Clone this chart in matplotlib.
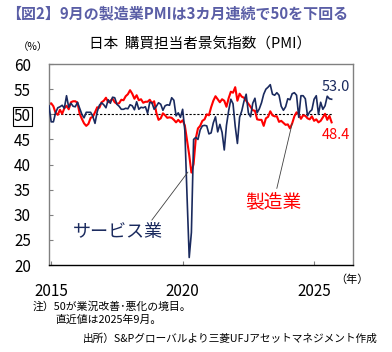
import matplotlib
matplotlib.use("Agg")
import matplotlib.pyplot as plt
import numpy as np

plt.rcParams['font.family'] = ['Noto Sans CJK JP', 'DejaVu Sans']

start_year = 2014
start_month = 12

manufacturing = [
    52.0,
    52.2, 51.6, 50.3, 49.9, 50.9, 50.1, 51.2, 51.7, 51.0, 52.4, 52.6, 52.6,
    52.3, 50.1, 49.1, 48.2, 47.7, 48.1, 49.3, 49.5, 50.4, 51.4, 51.3, 52.4,
    52.7, 53.3, 52.4, 52.7, 53.1, 52.4, 52.1, 52.2, 52.9, 52.8, 53.6, 54.0,
    54.8, 54.1, 53.1, 53.8, 52.8, 53.0, 52.3, 52.5, 52.5, 52.9, 52.2, 52.6,
    50.3, 48.9, 49.2, 50.2, 49.8, 49.3, 49.4, 49.3, 48.9, 48.4, 48.9, 48.4,
    48.8, 47.8, 44.8, 41.9, 38.4, 40.1, 45.2, 47.2, 47.7, 48.7, 49.0, 50.0,
    49.8, 51.4, 52.7, 53.6, 53.0, 52.4, 53.0, 52.7, 51.5, 53.2, 54.5, 54.3,
    55.4, 52.7, 54.1, 53.5, 53.3, 52.7, 52.1, 51.5, 50.8, 50.7, 49.0, 48.9,
    48.9, 47.7, 49.2, 49.5, 50.6, 49.8, 49.6, 49.6, 48.5, 48.7, 48.3, 47.9,
    48.0, 47.2, 48.2, 49.6, 50.4, 50.0, 49.1, 49.8, 49.7, 49.2, 49.0, 49.6,
    48.7, 49.0, 48.4, 48.7, 49.4, 50.1, 48.9, 49.7, 48.4,
]

services = [
    51.7,
    48.5, 48.5, 50.3, 51.3, 51.5, 51.8, 51.2, 53.7, 51.4, 52.2, 51.6, 51.5,
    52.4, 51.2, 50.0, 49.3, 50.4, 50.4, 50.4, 49.6, 48.2, 50.5, 51.8, 52.3,
    51.9, 51.3, 52.9, 52.2, 53.4, 53.3, 52.0, 51.6, 51.0, 51.0, 51.2, 51.1,
    51.9, 51.7, 50.9, 52.5, 51.0, 51.4, 51.3, 51.5, 50.2, 52.4, 52.3, 51.0,
    51.6, 52.3, 52.0, 50.8, 51.7, 51.9, 51.8, 53.3, 52.8, 49.7, 50.3, 49.4,
    51.0, 46.8, 33.8, 21.5, 26.5, 45.0, 45.4, 45.0, 46.9, 47.7, 47.8, 47.7,
    46.1, 46.3, 48.3, 49.5, 46.5, 48.0, 46.4, 42.9, 47.8, 50.7, 53.0, 52.1,
    47.6, 44.2, 49.4, 50.7, 52.6, 54.0, 50.3, 49.5, 52.2, 53.2, 50.3, 51.1,
    52.3, 54.0, 55.0, 55.4, 55.9, 54.0, 53.8, 54.3, 53.8, 51.6, 50.8, 51.5,
    53.1, 52.9, 54.1, 54.3, 53.8, 49.4, 53.7, 53.7, 53.1, 49.7, 50.5, 50.9,
    53.0, 53.7, 50.0, 52.4, 51.0, 51.7, 53.6, 53.1, 53.0,
]

y_ticks = [20, 25, 30, 35, 40, 45, 50, 55, 60]
x_ticks = [2015, 2020, 2025]

title_text = "【図2】9月の製造業PMIは3カ月連続で50を下回る"
chart_title = "日本  購買担当者景気指数（PMI）"
unit_label = "（%）"
year_label = "（年）"
label_serv = "サービス業"
label_manu = "製造業"
note1 = "注）50が業況改善･悪化の境目。"
note2 = "直近値は2025年9月。"
source = "出所）S&Pグローバルより三菱UFJアセットマネジメント作成"

n = len(manufacturing)
x = start_year + (start_month - 1) / 12 + np.arange(n) / 12.0

NAVY = "#1a2a5e"
RED = "#ff0000"

fig = plt.figure(figsize=(3.92, 3.52), dpi=100)
ax = fig.add_axes([0.125, 0.247, 0.7755, 0.571])

ax.plot([x[0], x[-1]], [50, 50], color="black", lw=0.8, ls=(0, (2, 1.5)), zorder=1)
ax.plot(x, services, color=NAVY, lw=1.2, zorder=3)
ax.plot(x, manufacturing, color=RED, lw=1.5, zorder=2)

ax.set_xlim(x[0], 2026.48)
ax.set_ylim(20, 60)
ax.set_yticks(y_ticks)
ax.set_yticklabels([str(v) for v in y_ticks], fontsize=11)
ax.set_xticks(x_ticks)
ax.set_xticklabels([str(v) for v in x_ticks], fontsize=11)
ax.tick_params(axis='y', direction='in', length=3, color='#808080', pad=13)
ax.tick_params(axis='x', direction='in', length=3, color='#808080', pad=13)
for lab in ax.get_yticklabels():
    lab.set_horizontalalignment('right')
    if lab.get_text() == "50":
        lab.set_bbox(dict(facecolor='none', edgecolor='black', pad=0.6, lw=0.8))

for s in ['top', 'right', 'left']:
    ax.spines[s].set_color('#808080')
    ax.spines[s].set_linewidth(1.0)
ax.spines['bottom'].set_color('black')
ax.spines['bottom'].set_linewidth(1.0)

# last values
ax.text(2025.83, services[-1] + 2.5, f"{services[-1]:.1f}", color=NAVY, fontsize=10.5,
        ha='center', va='center')
ax.text(2025.83, manufacturing[-1] - 2.5, f"{manufacturing[-1]:.1f}", color=RED, fontsize=10.5,
        ha='center', va='center')

# annotations
ax.annotate(label_serv, xy=(2020.2, 38.5), xytext=(2017.55, 26.6), color=NAVY, fontsize=13,
            ha='center', va='center',
            arrowprops=dict(arrowstyle='-', color='#404040', lw=0.6, shrinkA=0, shrinkB=0,
                            relpos=(0.85, 1.0)))
ax.annotate(label_manu, xy=(x[111], manufacturing[111]), xytext=(2023.45, 32.6), color=RED, fontsize=13.5,
            ha='center', va='center',
            arrowprops=dict(arrowstyle='-', color='#404040', lw=0.6, shrinkA=0, shrinkB=0,
                            relpos=(0.55, 1.0)))

fig.text(6 / 392, 1 - 13 / 352, title_text, color="#5a5ea6", fontsize=10.8, fontweight='bold',
         ha='left', va='center')
fig.text(200 / 392, 1 - 44 / 352, chart_title, color="black", fontsize=10.5, ha='center', va='center')
fig.text(33 / 392, 1 - 47 / 352, unit_label, color="black", fontsize=7.5, ha='center', va='center')
fig.text(352 / 392, 1 - 280 / 352, year_label, color="black", fontsize=8, ha='center', va='center')
fig.text(33 / 392, 1 - 307 / 352, note1, color="black", fontsize=7.8, ha='left', va='center')
fig.text(55 / 392, 1 - 320 / 352, note2, color="black", fontsize=7.8, ha='left', va='center')
fig.text(378 / 392, 1 - 339 / 352, source, color="black", fontsize=7.7, ha='right', va='center')

fig.savefig("out.png", dpi=100)
